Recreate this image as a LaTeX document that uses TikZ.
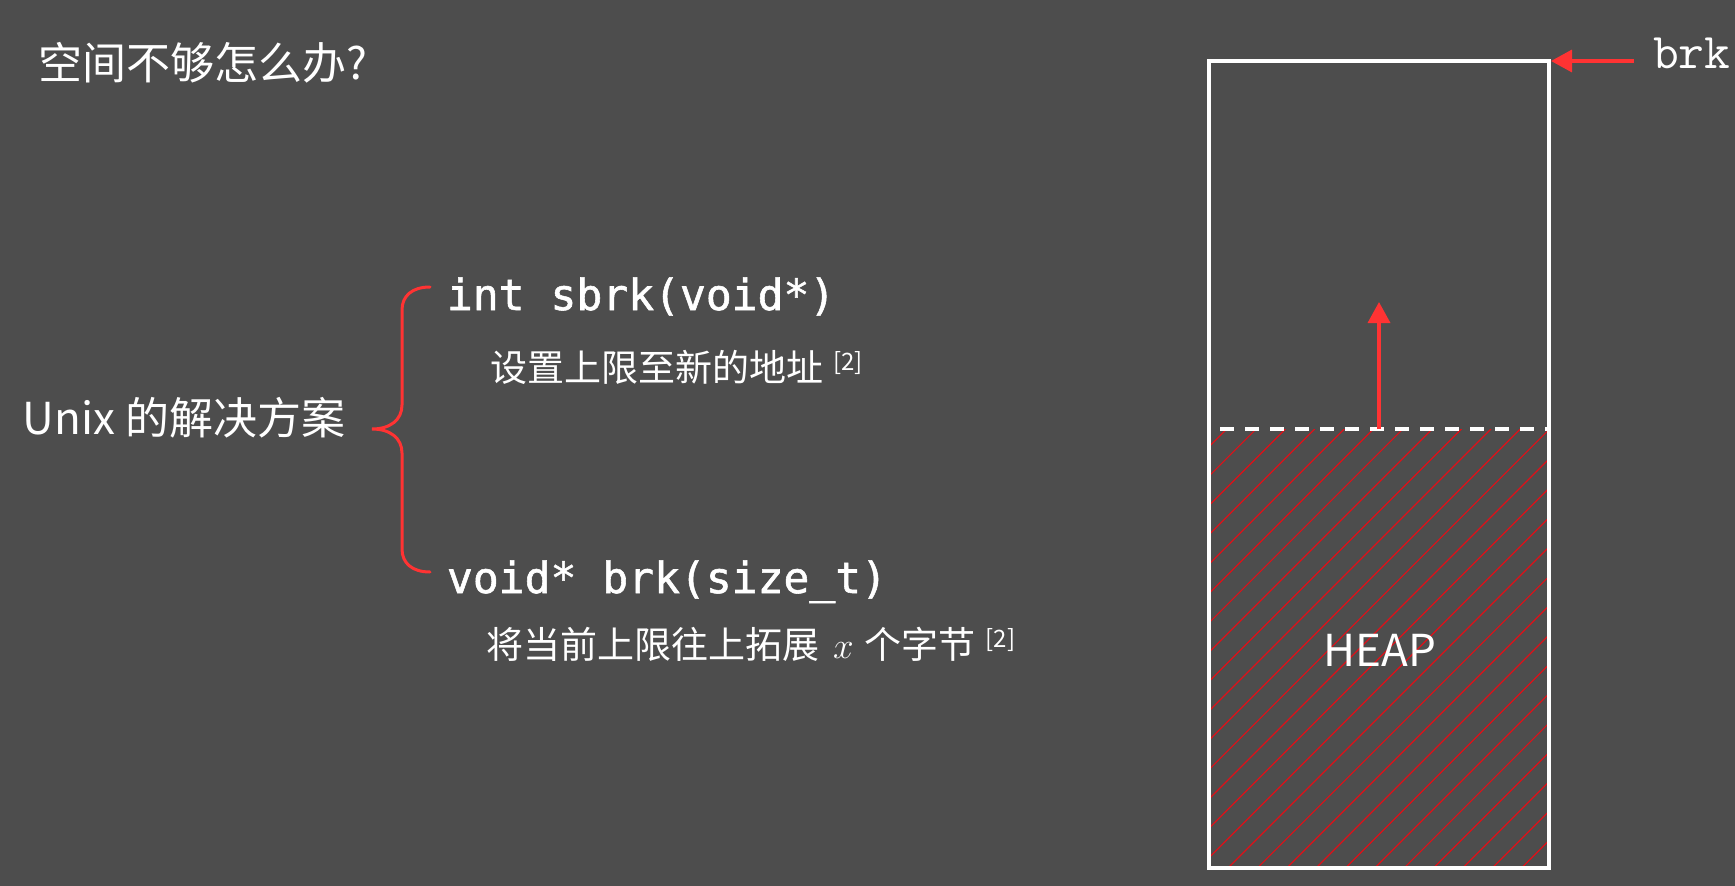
\documentclass[tikz,border=0pt]{standalone}
\usepackage{fix-cm}
\usepackage{fontspec}
\setmainfont{Noto Sans CJK SC}
\newfontfamily\codefont[FakeBold=1.3]{DejaVu Sans Mono}
\usetikzlibrary{arrows.meta}
\definecolor{bg}{HTML}{4D4D4D}
\definecolor{accent}{HTML}{FF3333}
\definecolor{hatch}{HTML}{E01018}
\tikzset{
  txt/.style={text=white, inner sep=0pt, outer sep=0pt},
  cjkbig/.style={txt, font=\fontsize{44}{50}\selectfont},
  cjksmall/.style={txt, font=\fontsize{37}{42}\selectfont},
  code/.style={txt, font=\codefont\fontsize{43}{48}\selectfont},
  redarrow/.style={draw=accent, line width=3.5pt, -{Triangle[width=22pt,length=21pt]}, accent},
  bracecurve/.style={draw=accent, line width=3pt, line cap=round},
  boxline/.style={draw=white, line width=3.8pt},
  dashline/.style={draw=white, line width=3.8pt, dash pattern=on 14pt off 11pt},
}
\newcommand{\refmark}{\hspace{10pt}\raisebox{11pt}{\fontsize{24}{24}\selectfont[2]}}
\begin{document}
\begin{tikzpicture}[x=1pt,y=-1pt]
\fill[bg] (0,0) rectangle (1735,886);
\useasboundingbox (0,0) rectangle (1735,886);

% title
\node[cjkbig, anchor=west] (title) at (38,63) {空间不够怎么办?};

% left label
\node[cjkbig, anchor=west] (unix) at (23,418) {Unix 的解决方案};

% brace
\draw[bracecurve] (430,287) .. controls (412,287) and (402,296) .. (402,310)
  -- (402,405) .. controls (402,420) and (390,429) .. (372,429)
  .. controls (390,429) and (402,438) .. (402,453)
  -- (402,549) .. controls (402,563) and (412,572) .. (430,572);

% code lines
\node[code, anchor=base west] (sbrk) at (447,310) {int sbrk(void*)};
\node[cjksmall, anchor=west] (sbrkdesc) at (490,367) {设置上限至新的地址\refmark};
\node[code, anchor=base west] (brkfn) at (447,593) {void* brk(size\_t)};
\node[cjksmall, anchor=west] (brkdesc) at (486,644) {将当前上限往上拓展\hspace{14pt}$x$\hspace{11pt}个字节\refmark};

% heap box
\coordinate (boxtl) at (1209,61);
\coordinate (boxtr) at (1549,61);
\coordinate (boxbr) at (1549,868);
\coordinate (boxbl) at (1209,868);
\coordinate (dashl) at (1209,429);
\coordinate (dashr) at (1549,429);

\begin{scope}
  \clip (dashl) rectangle (boxbr);
  \foreach \i in {0,...,26}{
    \pgfmathsetmacro{\k}{1655.75+29.35*\i}
    \draw[hatch, line width=1.2pt] (\k-868,868) -- (\k-429,429);
  }
\end{scope}

\draw[boxline] (boxtl) -- (boxtr) -- (boxbr) -- (boxbl) -- cycle;
\draw[dashline] (1220,429) -- (dashr);

\node[txt, font=\fontsize{44}{50}\selectfont] (heap) at (1380,650) {HEAP};

% growth arrow
\coordinate (growbase) at (1379,429);
\coordinate (growtip) at (1379,302);
\draw[redarrow] (growbase) -- (growtip);

% brk pointer
\node[txt, font=\ttfamily\fontsize{50}{56}\selectfont, anchor=base west] (brk) at (1653,68) {brk};
\coordinate (brkstart) at (1634,61);
\draw[redarrow] (brkstart) -- (1551,61);
\end{tikzpicture}
\end{document}
